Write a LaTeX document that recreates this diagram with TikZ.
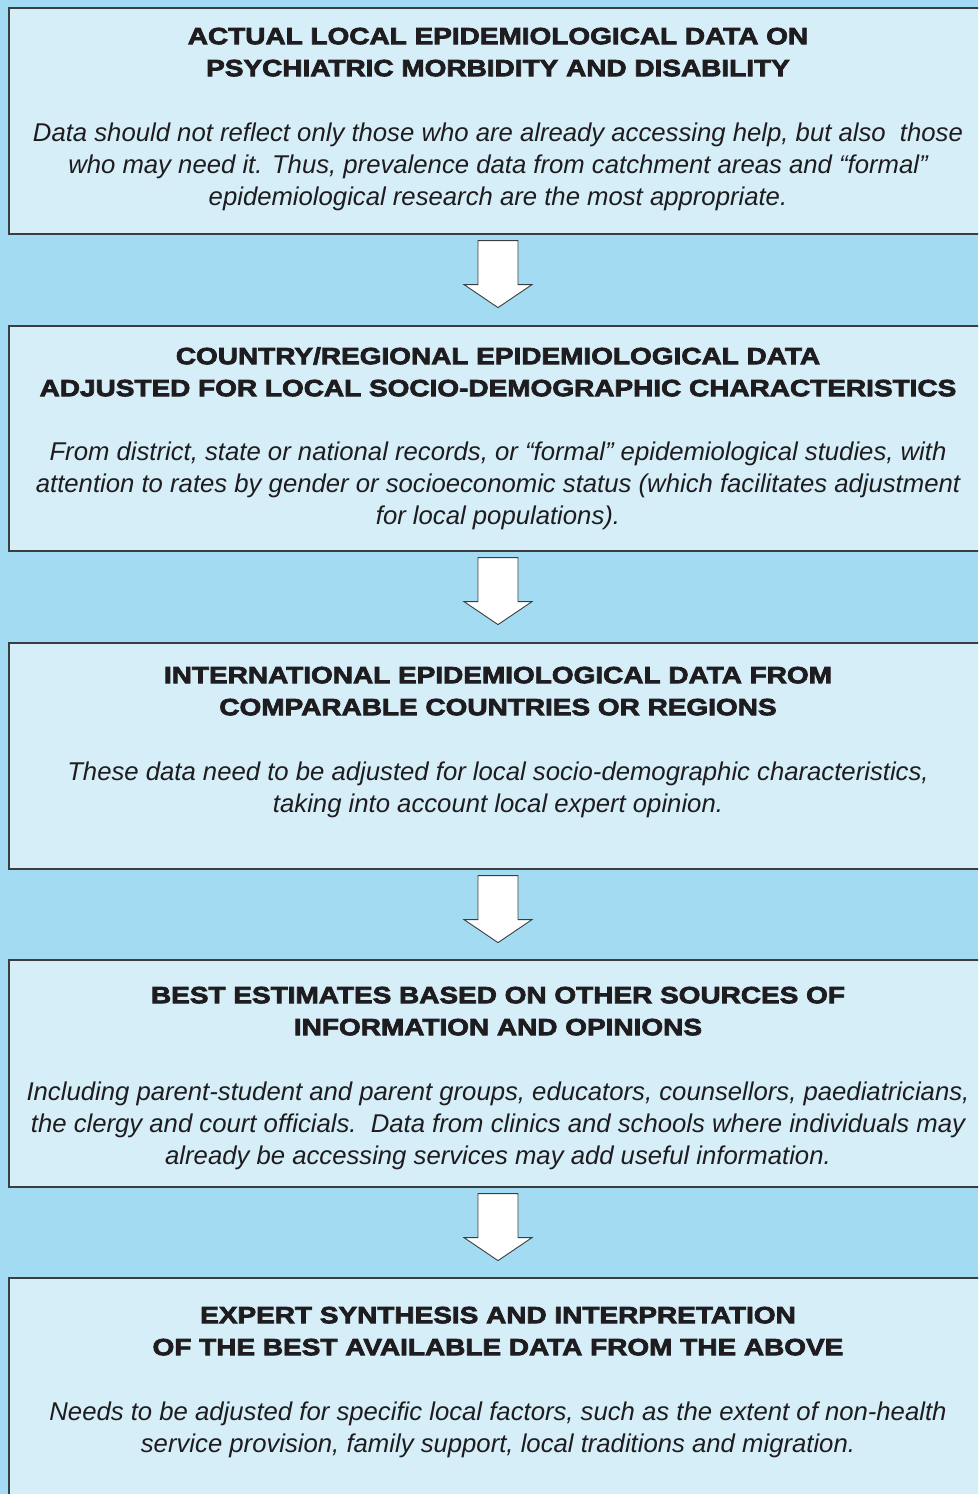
\documentclass[tikz,border=0pt]{standalone}
\usepackage{fontspec}
\setmainfont{Liberation Sans}
\newfontfamily\heavyfont[FakeBold=3.2,FakeStretch=1.19]{Liberation Sans Bold}
\usetikzlibrary{calc}
\definecolor{bgblue}{RGB}{163,220,242}
\definecolor{boxblue}{RGB}{214,238,248}
\definecolor{edge}{RGB}{58,62,64}
\definecolor{inktext}{RGB}{30,28,30}
\tikzset{
  panel/.style={rectangle, draw=edge, line width=1.6pt, fill=boxblue, anchor=north west, inner sep=0pt},
  heading/.style={anchor=north, inner sep=0pt, align=center, text=inktext,
    font=\heavyfont\fontsize{23.5}{32}\selectfont},
  bodytext/.style={anchor=north, inner sep=0pt, align=center, text=inktext,
    font=\itshape\fontsize{25.7}{32}\selectfont},
  pics/downarrow/.style={code={
    \draw[fill=white, draw=edge, line width=0.9pt, line join=miter]
      (-20,0) -- (20,0) -- (20,44) -- (34,44) -- (0,67) -- (-34,44) -- (-20,44) -- cycle;
  }}
}
\newcommand{\sst}{\rule{0pt}{28pt}}
\begin{document}
\begin{tikzpicture}[x=1pt,y=-1pt]
\useasboundingbox (0,0) rectangle (978,1494);
\clip (0,0) rectangle (978,1494);
\fill[bgblue] (0,0) rectangle (978,1494);
% panels
\node[panel, minimum width=990pt, minimum height=226pt] (b1) at (8,7) {};
\node[panel, minimum width=990pt, minimum height=225pt] (b2) at (8,325) {};
\node[panel, minimum width=990pt, minimum height=226pt] (b3) at (8,642) {};
\node[panel, minimum width=990pt, minimum height=227pt] (b4) at (8,959) {};
\node[panel, minimum width=990pt, minimum height=260pt] (b5) at (8,1277) {};
% arrows
\pic at ($(b1.south west)+(490,6)$) {downarrow};
\pic at ($(b2.south west)+(490,6)$) {downarrow};
\pic at ($(b3.south west)+(490,6)$) {downarrow};
\pic at ($(b4.south west)+(490,6)$) {downarrow};
% texts
\node[heading] (h1) at (498,44-28) {\sst ACTUAL LOCAL EPIDEMIOLOGICAL DATA ON\\PSYCHIATRIC MORBIDITY AND DISABILITY};
\node[bodytext] (d1) at (498,141-28) {\sst Data should not reflect only those who are already accessing help, but also\ \ those\\who may need it. Thus, prevalence data from catchment areas and “formal”\\epidemiological research are the most appropriate.};
\node[heading] (h2) at (498,364-28) {\sst COUNTRY/REGIONAL EPIDEMIOLOGICAL DATA\\ADJUSTED FOR LOCAL SOCIO-DEMOGRAPHIC CHARACTERISTICS};
\node[bodytext] (d2) at (498,460-28) {\sst From district, state or national records, or “formal” epidemiological studies, with\\attention to rates by gender or socioeconomic status (which facilitates adjustment\\for local populations).};
\node[heading] (h3) at (498,683-28) {\sst INTERNATIONAL EPIDEMIOLOGICAL DATA FROM\\COMPARABLE COUNTRIES OR REGIONS};
\node[bodytext] (d3) at (498,780-28) {\sst These data need to be adjusted for local socio-demographic characteristics,\\taking into account local expert opinion.};
\node[heading] (h4) at (498,1003-28) {\sst BEST ESTIMATES BASED ON OTHER SOURCES OF\\INFORMATION AND OPINIONS};
\node[bodytext] (d4) at (498,1100-28) {\sst Including parent-student and parent groups, educators, counsellors, paediatricians,\\the clergy and court officials.\ \ Data from clinics and schools where individuals may\\already be accessing services may add useful information.};
\node[heading] (h5) at (498,1323-28) {\sst EXPERT SYNTHESIS AND INTERPRETATION\\OF THE BEST AVAILABLE DATA FROM THE ABOVE};
\node[bodytext] (d5) at (498,1420-28) {\sst Needs to be adjusted for specific local factors, such as the extent of non-health\\service provision, family support, local traditions and migration.};
\end{tikzpicture}
\end{document}
